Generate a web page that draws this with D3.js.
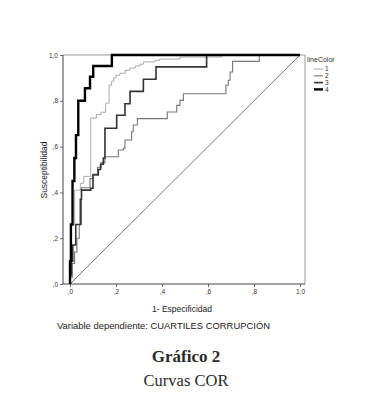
<!DOCTYPE html>
<html lang="es">
<head>
<meta charset="UTF-8">
<title>Curvas COR</title>
<script src="https://d3js.org/d3.v7.min.js"></script>
<style>
  body { margin: 0; background: #fff; }
  svg { display: block; }
  .tick text { font-family: "Liberation Sans", Arial, sans-serif; font-size: 6.5px; fill: #333; }
  .tick line { stroke: #444; stroke-width: 0.8px; }
</style>
</head>
<body>
<div id="chart"></div>
<script>
// ROC points (1 - especificidad, sensibilidad)
const curve1 = [[0,0],[0,0.04],[0.005,0.04],[0.005,0.26],[0.02,0.26],[0.02,0.41],[0.045,0.41],[0.045,0.44],[0.06,0.44],[0.06,0.47],[0.09,0.47],[0.09,0.725],[0.115,0.725],[0.115,0.74],[0.135,0.74],[0.135,0.75],[0.155,0.75],[0.155,0.79],[0.17,0.79],[0.17,0.868],[0.181,0.868],[0.181,0.885],[0.19,0.885],[0.19,0.90],[0.2,0.90],[0.2,0.912],[0.217,0.912],[0.217,0.92],[0.24,0.92],[0.24,0.933],[0.26,0.933],[0.26,0.943],[0.283,0.943],[0.283,0.952],[0.304,0.952],[0.304,0.96],[0.32,0.96],[0.32,0.97],[0.37,0.97],[0.37,0.977],[0.39,0.977],[0.39,0.982],[0.478,0.982],[0.478,0.991],[0.66,0.991],[0.66,1],[1,1]];
const curve2 = [[0,0],[0,0.03],[0.01,0.03],[0.01,0.09],[0.02,0.09],[0.02,0.14],[0.03,0.14],[0.03,0.20],[0.04,0.20],[0.04,0.26],[0.05,0.26],[0.05,0.42],[0.087,0.42],[0.087,0.46],[0.1,0.46],[0.1,0.48],[0.12,0.48],[0.12,0.51],[0.135,0.51],[0.135,0.53],[0.152,0.53],[0.152,0.556],[0.21,0.556],[0.21,0.585],[0.232,0.585],[0.232,0.593],[0.239,0.593],[0.239,0.629],[0.268,0.629],[0.268,0.665],[0.275,0.665],[0.275,0.694],[0.293,0.694],[0.293,0.722],[0.423,0.722],[0.423,0.751],[0.464,0.751],[0.464,0.78],[0.478,0.78],[0.478,0.802],[0.493,0.802],[0.493,0.831],[0.678,0.831],[0.678,0.868],[0.688,0.868],[0.688,0.89],[0.696,0.89],[0.696,0.926],[0.707,0.926],[0.707,0.972],[0.823,0.972],[0.823,1],[1,1]];
const curve3 = [[0,0],[0,0.04],[0.006,0.04],[0.006,0.1],[0.012,0.1],[0.012,0.17],[0.025,0.17],[0.025,0.26],[0.045,0.26],[0.045,0.37],[0.05,0.37],[0.05,0.41],[0.09,0.41],[0.09,0.418],[0.1,0.418],[0.1,0.476],[0.123,0.476],[0.123,0.5],[0.133,0.5],[0.133,0.523],[0.145,0.523],[0.145,0.55],[0.152,0.55],[0.152,0.68],[0.203,0.68],[0.203,0.737],[0.239,0.737],[0.239,0.787],[0.261,0.787],[0.261,0.841],[0.319,0.841],[0.319,0.894],[0.374,0.894],[0.374,0.948],[0.594,0.948],[0.594,1],[1,1]];
const curve4 = [[0,0],[0,0.10],[0.004,0.10],[0.004,0.26],[0.011,0.26],[0.011,0.45],[0.019,0.45],[0.019,0.55],[0.026,0.55],[0.026,0.65],[0.036,0.65],[0.036,0.80],[0.065,0.80],[0.065,0.855],[0.087,0.855],[0.087,0.905],[0.101,0.905],[0.101,0.952],[0.182,0.952],[0.182,1],[1,1]];
const diagonal = [[0,0],[1,1]];

const categories = ["1", "2", "3", "4"];
const series = [curve1, curve2, curve3, curve4];
const colors = ["#aaaaaa", "#777777", "#333333", "#000000"];
const widths = [1, 1.1, 1.6, 2.4];
const ticks = [0, 0.2, 0.4, 0.6, 0.8, 1.0];

const W = 375, H = 416;
const svg = d3.select("#chart").append("svg")
    .attr("width", W)
    .attr("height", H);

const x = d3.scaleLinear().domain([0, 1]).range([70, 300]);
const y = d3.scaleLinear().domain([0, 1]).range([284, 55]);
const fmt = d => d3.format(".1f")(d).replace(/^0/, "").replace(".", ",");

// plot frame
const left = 63, right = 305;
svg.append("line").attr("x1", left).attr("x2", right).attr("y1", y(1)).attr("y2", y(1))
    .attr("stroke", "#999").attr("stroke-width", 1);
svg.append("line").attr("x1", right).attr("x2", right).attr("y1", y(1)).attr("y2", y(0))
    .attr("stroke", "#aaa").attr("stroke-width", 1.2);
svg.append("line").attr("x1", left).attr("x2", right).attr("y1", y(0)).attr("y2", y(0))
    .attr("stroke", "#444").attr("stroke-width", 1);
svg.append("line").attr("x1", left).attr("x2", left).attr("y1", y(1)).attr("y2", y(0))
    .attr("stroke", "#444").attr("stroke-width", 1);

// axes
const xAxis = svg.append("g")
    .attr("transform", `translate(0,${y(0)})`)
    .call(d3.axisBottom(x).tickValues(ticks).tickFormat(fmt).tickSize(3).tickPadding(2));
xAxis.select(".domain").remove();

const yAxis = svg.append("g")
    .attr("transform", `translate(${left},0)`)
    .call(d3.axisLeft(y).tickValues(ticks).tickFormat(fmt).tickSize(3).tickPadding(2));
yAxis.select(".domain").remove();

// reference line
const line = d3.line().x(d => x(d[0])).y(d => y(d[1]));
svg.append("path")
    .datum(diagonal)
    .attr("d", line)
    .attr("fill", "none")
    .attr("stroke", "#555")
    .attr("stroke-width", 0.8);

// ROC curves
svg.selectAll(".roc")
    .data(series)
    .enter()
    .append("path")
    .attr("class", "roc")
    .attr("d", line)
    .attr("fill", "none")
    .attr("stroke", (d, i) => colors[i])
    .attr("stroke-width", (d, i) => widths[i])
    .attr("stroke-linejoin", "miter");

// legend
const legend = svg.append("g").attr("transform", "translate(307,0)");
legend.append("text")
    .attr("x", 0).attr("y", 62)
    .attr("font-family", "Liberation Sans, Arial, sans-serif")
    .attr("font-size", 7).attr("fill", "#333")
    .text("lineColor");
categories.forEach((c, i) => {
    const yy = 69 + i * 6.8;
    legend.append("line")
        .attr("x1", 7).attr("x2", 16).attr("y1", yy).attr("y2", yy)
        .attr("stroke", colors[i]).attr("stroke-width", widths[i]);
    legend.append("text")
        .attr("x", 18).attr("y", yy + 2.3)
        .attr("font-family", "Liberation Sans, Arial, sans-serif")
        .attr("font-size", 6.5).attr("fill", "#333")
        .text(c);
});

// axis titles
svg.append("text")
    .attr("transform", "translate(47,170) rotate(-90)")
    .attr("text-anchor", "middle")
    .attr("font-family", "Liberation Sans, Arial, sans-serif")
    .attr("font-size", 9.5).attr("fill", "#222")
    .attr("textLength", 57).attr("lengthAdjust", "spacingAndGlyphs")
    .text("Susceptibilidad");

svg.append("text")
    .attr("x", 182).attr("y", 312)
    .attr("text-anchor", "middle")
    .attr("font-family", "Liberation Sans, Arial, sans-serif")
    .attr("font-size", 9.5).attr("fill", "#222")
    .attr("textLength", 60).attr("lengthAdjust", "spacingAndGlyphs")
    .text("1- Especificidad");

svg.append("text")
    .attr("x", 57).attr("y", 329)
    .attr("font-family", "Liberation Sans, Arial, sans-serif")
    .attr("font-size", 9.5).attr("fill", "#222")
    .attr("textLength", 213).attr("lengthAdjust", "spacingAndGlyphs")
    .text("Variable dependiente: CUARTILES CORRUPCIÓN");

// caption
svg.append("text")
    .attr("x", 186).attr("y", 362)
    .attr("text-anchor", "middle")
    .attr("font-family", "Liberation Serif, serif")
    .attr("font-size", 17).attr("font-weight", "bold").attr("fill", "#2a2a2a")
    .text("Gráfico 2");

svg.append("text")
    .attr("x", 186).attr("y", 386)
    .attr("text-anchor", "middle")
    .attr("font-family", "Liberation Serif, serif")
    .attr("font-size", 16.5).attr("fill", "#2a2a2a")
    .text("Curvas COR");
</script>
</body>
</html>
